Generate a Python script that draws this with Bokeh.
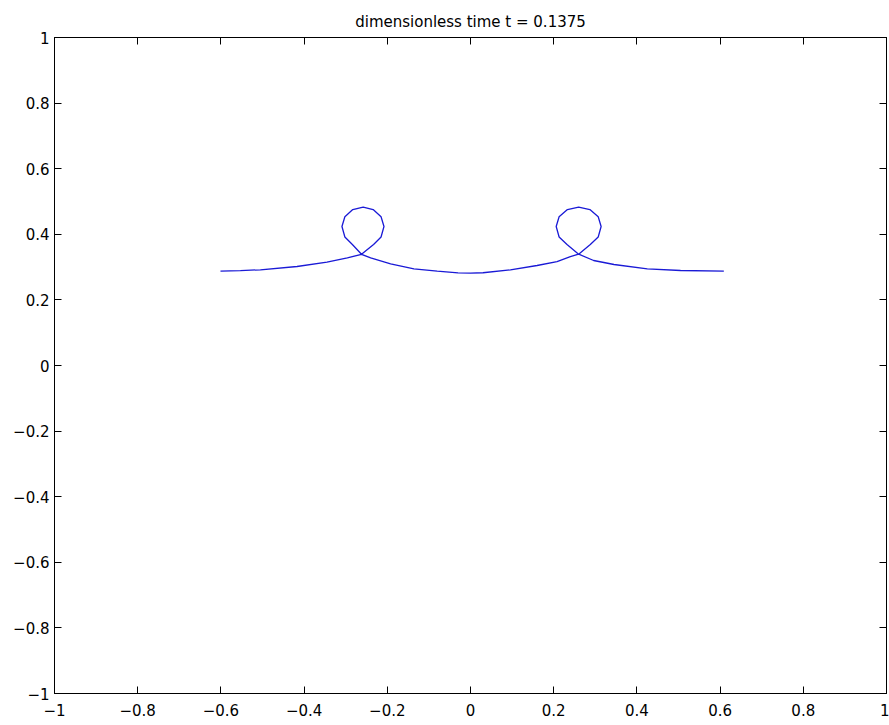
from bokeh.plotting import figure
from bokeh.models import FixedTicker, LinearAxis, Range1d
from bokeh.embed import file_html
from bokeh.resources import INLINE

title_text = "dimensionless time t = 0.1375"
tick_values = [-1, -0.8, -0.6, -0.4, -0.2, 0, 0.2, 0.4, 0.6, 0.8, 1]
tick_labels = ["\u22121", "\u22120.8", "\u22120.6", "\u22120.4", "\u22120.2", "0",
               "0.2", "0.4", "0.6", "0.8", "1"]

# sheet position, in order along the curve
curve_x = [-0.601, -0.553, -0.505, -0.417, -0.345, -0.296, -0.262,
           -0.233, -0.215, -0.208, -0.215, -0.234, -0.258, -0.283, -0.302, -0.309, -0.302, -0.284, -0.262,
           -0.240, -0.192, -0.136, -0.080, -0.030, 0.000, 0.030, 0.096, 0.160, 0.208, 0.240, 0.260,
           0.288, 0.307, 0.314, 0.307, 0.287, 0.260, 0.233, 0.213, 0.206, 0.213, 0.232, 0.260,
           0.296, 0.345, 0.425, 0.505, 0.609]
curve_y = [0.2875, 0.2895, 0.2918, 0.3018, 0.3150, 0.3284, 0.3390,
           0.3689, 0.3918, 0.4238, 0.4534, 0.4753, 0.4832, 0.4753, 0.4534, 0.4238, 0.3918, 0.3689, 0.3390,
           0.3284, 0.3100, 0.2948, 0.2875, 0.2822, 0.2815, 0.2828, 0.2918, 0.3049, 0.3170, 0.3320, 0.3395,
           0.3689, 0.3918, 0.4238, 0.4534, 0.4753, 0.4826, 0.4753, 0.4534, 0.4238, 0.3918, 0.3689, 0.3395,
           0.3201, 0.3079, 0.2948, 0.2896, 0.2875]

FONT = "DejaVu Sans"

p = figure(width=889, height=725, output_backend="svg", toolbar_location=None,
           x_range=Range1d(-1, 1), y_range=Range1d(-1, 1),
           min_border_left=54, min_border_right=3, min_border_top=37, min_border_bottom=32,
           background_fill_color="white", border_fill_color="white")

p.title.text = title_text
p.title.align = "center"
p.title.text_font = FONT
p.title.text_font_size = "15px"
p.title.text_font_style = "normal"
p.title.text_color = "black"
p.title.standoff = 14

p.xgrid.visible = False
p.ygrid.visible = False
p.outline_line_color = "black"
p.outline_line_width = 1

overrides = {v: s for v, s in zip(tick_values, tick_labels)}

def style_axis(ax, labels=True):
    ax.ticker = FixedTicker(ticks=tick_values)
    ax.minor_tick_line_color = None
    ax.major_tick_in = 7
    ax.major_tick_out = 0
    ax.major_tick_line_color = "black"
    ax.axis_line_color = "black"
    if labels:
        ax.major_label_overrides = overrides
        ax.major_label_text_font = FONT
        ax.major_label_text_font_size = "15px"
        ax.major_label_text_color = "black"
    else:
        ax.major_label_text_color = None
        ax.major_label_text_font_size = "1px"
        ax.major_label_standoff = 0

style_axis(p.xaxis[0])
p.xaxis[0].major_label_standoff = 10
style_axis(p.yaxis[0])
p.yaxis[0].major_label_standoff = 5

top = LinearAxis()
style_axis(top, labels=False)
p.add_layout(top, "above")
right = LinearAxis()
style_axis(right, labels=False)
p.add_layout(right, "right")

p.line(curve_x, curve_y, line_color="#1a1ad6", line_width=1.3)

open("out.html", "w").write(file_html(p, INLINE))
